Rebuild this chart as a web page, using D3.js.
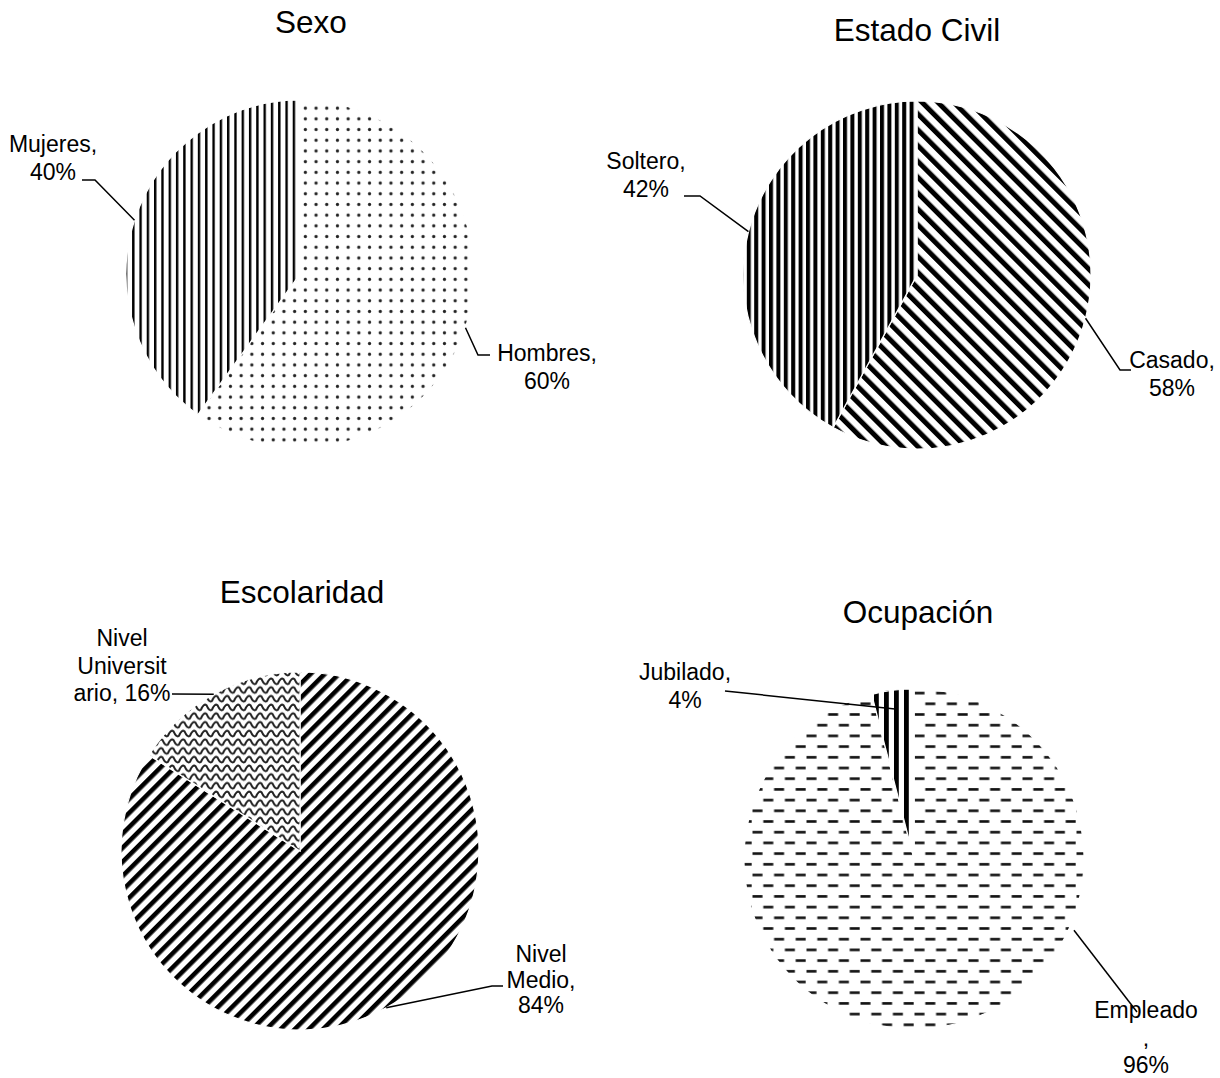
<!DOCTYPE html>
<html>
<head>
<meta charset="utf-8">
<script src="https://cdn.jsdelivr.net/npm/d3@7"></script>
<style>
  html, body { margin: 0; padding: 0; background: #fff; }
  svg { display: block; }
  text { font-family: "Liberation Sans", Arial, sans-serif; fill: #000; }
</style>
</head>
<body>
<svg id="chart" width="1220" height="1078"></svg>
<script>
// ---- data ----
const sexoCategories = ["Hombres", "Mujeres"];
const sexoValues = [60, 40];

const civilCategories = ["Casado", "Soltero"];
const civilValues = [58, 42];

const escolaridadCategories = ["Nivel Medio", "Nivel Universitario"];
const escolaridadValues = [84, 16];

const ocupacionCategories = ["Empleado", "Jubilado"];
const ocupacionValues = [96, 4];

const chartTitles = ["Sexo", "Estado Civil", "Escolaridad", "Ocupación"];

// ---- fill patterns ----
const svg = d3.select("#chart");
const defs = svg.append("defs");

function stripePattern(id, period, width, angle) {
  const p = defs.append("pattern").attr("id", id)
    .attr("patternUnits", "userSpaceOnUse")
    .attr("width", period).attr("height", period);
  if (angle) p.attr("patternTransform", `rotate(${angle})`);
  p.append("rect").attr("width", period).attr("height", period).attr("fill", "#fff");
  p.append("rect").attr("x", 0).attr("width", width).attr("height", period).attr("fill", "#000");
}

// small dots
(function () {
  const s = 10.7;
  const p = defs.append("pattern").attr("id", "pDots")
    .attr("patternUnits", "userSpaceOnUse").attr("width", s).attr("height", s);
  p.append("rect").attr("width", s).attr("height", s).attr("fill", "#fff");
  p.append("circle").attr("cx", s / 2).attr("cy", s / 2).attr("r", 1.6).attr("fill", "#222");
})();

stripePattern("pVertThin", 7.3, 2.4, 0);
stripePattern("pVertBold", 7.4, 4.0, 0);
stripePattern("pDiagDown", 11.2, 5.0, -45);
stripePattern("pDiagUp", 10, 4.6, 45);
stripePattern("pVertWide", 10, 4.8, 0);

// wave
(function () {
  const w = 11, h = 8.7;
  const p = defs.append("pattern").attr("id", "pWave")
    .attr("patternUnits", "userSpaceOnUse").attr("width", w).attr("height", h);
  p.append("rect").attr("width", w).attr("height", h).attr("fill", "#fff");
  const y0 = h / 2, a = 2.2;
  const d = `M${-w / 2},${y0 - a} Q${-w / 4},${y0 + a * 2} 0,${y0 + a} ` +
            `Q${w / 4},${y0 - a * 2} ${w / 2},${y0 - a} ` +
            `Q${w * 3 / 4},${y0 + a * 2} ${w},${y0 + a} ` +
            `Q${w * 5 / 4},${y0 - a * 2} ${w * 1.5},${y0 - a}`;
  p.append("path").attr("d", d)
    .attr("fill", "none").attr("stroke", "#222").attr("stroke-width", 2);
})();

// dashes, staggered rows
(function () {
  const w = 21.6, h = 21.4;
  const p = defs.append("pattern").attr("id", "pDash")
    .attr("patternUnits", "userSpaceOnUse").attr("width", w).attr("height", h);
  p.append("rect").attr("width", w).attr("height", h).attr("fill", "#fff");
  p.append("rect").attr("x", 0.5).attr("y", 4).attr("width", 10).attr("height", 2.6).attr("fill", "#111");
  p.append("rect").attr("x", 11.3).attr("y", 14.7).attr("width", 10).attr("height", 2.6).attr("fill", "#111");
})();

// ---- pies ----
const charts = [
  {
    title: chartTitles[0], cats: sexoCategories, vals: sexoValues,
    cx: 300, cy: 274, r: 174, titleX: 311, titleY: 33,
    fills: ["url(#pDots)", "url(#pVertThin)"],
    labels: [
      { x: 547, y: 361, breaks: [8], lead: [[478, 355], [490, 355]] },
      { x: 53, y: 152, breaks: [8], lead: [[95, 180], [82, 180]] }
    ]
  },
  {
    title: chartTitles[1], cats: civilCategories, vals: civilValues,
    cx: 917, cy: 275, r: 174, titleX: 917, titleY: 41,
    fills: ["url(#pDiagDown)", "url(#pVertBold)"],
    labels: [
      { x: 1172, y: 368, breaks: [7], lead: [[1120, 370], [1131, 370]] },
      { x: 646, y: 169, breaks: [8], lead: [[700, 196], [684, 196]] }
    ]
  },
  {
    title: chartTitles[2], cats: escolaridadCategories, vals: escolaridadValues,
    cx: 300, cy: 851, r: 179, titleX: 302, titleY: 603,
    fills: ["url(#pDiagUp)", "url(#pWave)"],
    labels: [
      { x: 541, y: 962, lh: 25.5, breaks: [5, 12], lead: [[492, 986], [503, 986]] },
      { x: 122, y: 646, breaks: [5, 15], lead: [[172, 694]] }
    ]
  },
  {
    title: chartTitles[3], cats: ocupacionCategories, vals: ocupacionValues,
    cx: 914, cy: 859, r: 170, titleX: 918, titleY: 623,
    fills: ["url(#pDash)", "url(#pVertWide)"],
    labels: [
      { x: 1146, y: 1018, lh: 27.5, breaks: [8, 9], angle: 114, rf: 1.03, lead: [[1137, 1012]] },
      { x: 685, y: 680, breaks: [9], rf: 0.89, lead: [[725, 691]] }
    ]
  }
];

const pie = d3.pie().sort(null).value(d => d);

charts.forEach(c => {
  const g = svg.append("g");
  const arcs = pie(c.vals);
  const arc = d3.arc().innerRadius(0).outerRadius(c.r);

  g.append("text")
    .attr("x", c.titleX).attr("y", c.titleY)
    .attr("text-anchor", "middle")
    .attr("font-size", 31.5)
    .text(c.title);

  const pg = g.append("g").attr("transform", `translate(${c.cx},${c.cy})`);
  pg.selectAll("path.slice").data(arcs).join("path")
    .attr("class", "slice")
    .attr("d", arc)
    .attr("fill", (d, i) => c.fills[i])
    .attr("stroke", "#fff")
    .attr("stroke-width", 1.2);

  arcs.forEach((a, i) => {
    const L = c.labels[i];
    const mid = L.angle != null ? L.angle * Math.PI / 180 : (a.startAngle + a.endAngle) / 2;
    const rr = c.r * (L.rf || 1.0);
    const start = [c.cx + rr * Math.sin(mid), c.cy - rr * Math.cos(mid)];
    const pts = [start].concat(L.lead);
    g.append("path")
      .attr("d", d3.line()(pts))
      .attr("fill", "none")
      .attr("stroke", "#000")
      .attr("stroke-width", 1.5);

    const full = `${c.cats[i]}, ${c.vals[i]}%`;
    const lines = [];
    let prev = 0;
    L.breaks.forEach(b => { lines.push(full.slice(prev, b).trim()); prev = b; });
    lines.push(full.slice(prev).trim());
    const lh = L.lh || 27.5;
    const t = g.append("text")
      .attr("text-anchor", "middle")
      .attr("font-size", 23);
    lines.forEach((ln, k) => {
      t.append("tspan").attr("x", L.x).attr("y", L.y + k * lh).text(ln);
    });
  });
});
</script>
</body>
</html>
